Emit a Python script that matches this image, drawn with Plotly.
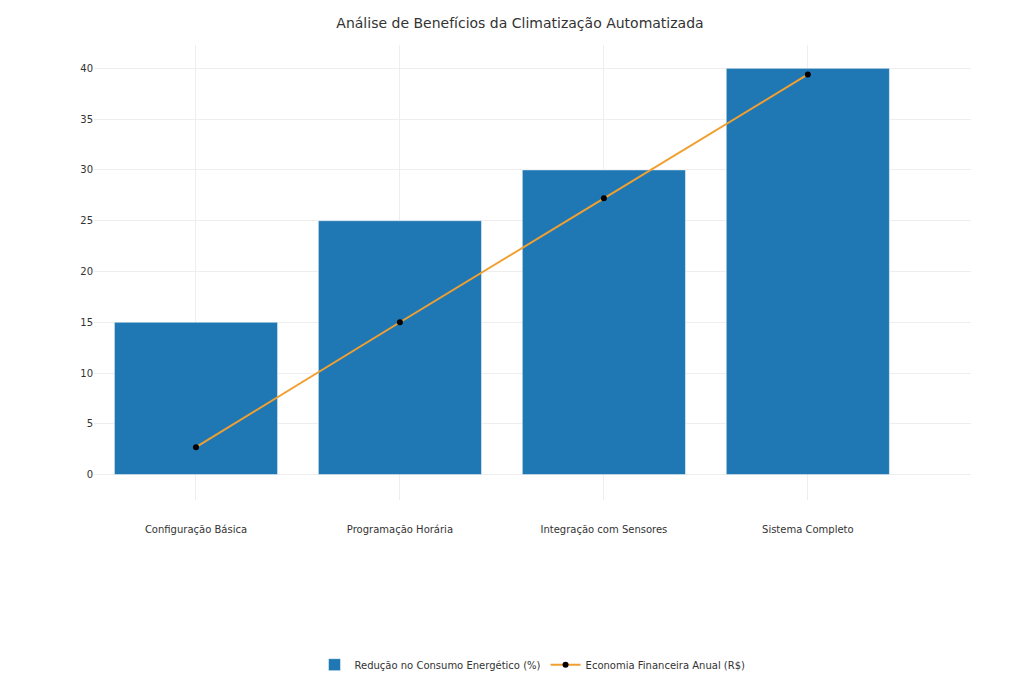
import plotly.graph_objects as go

categories = ["Configuração Básica", "Programação Horária", "Integração com Sensores", "Sistema Completo"]
reducao = [15, 25, 30, 40]
economia = [2.7, 15, 27.2, 39.4]

fig = go.Figure()
fig.add_trace(go.Bar(x=categories, y=reducao, name="Redução no Consumo Energético (%)",
                     marker_color="#1f77b4", width=0.8))
fig.add_trace(go.Scatter(x=categories, y=economia, name="Economia Financeira Anual (R$)",
                         mode="lines+markers", line=dict(color="#f0a030", width=2),
                         marker=dict(color="black", size=6)))
fig.update_layout(
    width=1024, height=683, template="plotly_white",
    title=dict(text="Análise de Benefícios da Climatização Automatizada", x=0.5, y=0.985,
               yanchor="top", font=dict(size=14, color="#333")),
    font=dict(family="DejaVu Sans", size=10, color="#333"),
    margin=dict(l=86, r=61, t=37, b=165),
    legend=dict(orientation="h", x=0.5, xanchor="center", y=-0.33, yanchor="top"),
    yaxis=dict(range=[-2.5, 42.3], dtick=5, zeroline=False, gridcolor="#eee"),
    xaxis=dict(gridcolor="#eee", showgrid=True, range=[-0.5, 3.8],
               ticks="outside", ticklen=20, tickcolor="rgba(0,0,0,0)"),
)
fig.write_html("out.html")
